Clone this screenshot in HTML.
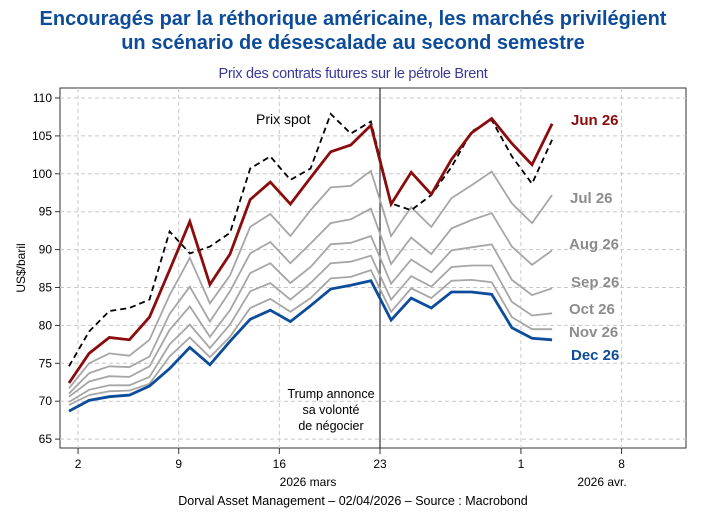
<!DOCTYPE html>
<html><head><meta charset="utf-8"><style>
body{margin:0;background:#fff;width:706px;height:522px;overflow:hidden;font-family:"Liberation Sans",sans-serif}
</style></head><body>
<svg id="chart" width="706" height="522" xmlns="http://www.w3.org/2000/svg" font-family="Liberation Sans, sans-serif">
<text x="353" y="25" text-anchor="middle" font-size="20" font-weight="bold" fill="#0d4c9a">Encouragés par la réthorique américaine, les marchés privilégient</text>
<text x="353" y="49" text-anchor="middle" font-size="20" font-weight="bold" fill="#0d4c9a">un scénario de désescalade au second semestre</text>
<text x="353" y="78" text-anchor="middle" font-size="14.5" fill="#3a3a9a" letter-spacing="-0.3">Prix des contrats futures sur le pétrole Brent</text>
<rect x="60" y="88" width="626" height="360" fill="none" stroke="#333" stroke-width="1"/>
<g id="grid"></g><g id="axes"></g><g id="series"></g>
<text transform="translate(25,268) rotate(-90)" text-anchor="middle" font-size="12" fill="#000">US$/baril</text>
<text x="308" y="486" text-anchor="middle" font-size="12">2026 mars</text>
<text x="602" y="486" text-anchor="middle" font-size="12">2026 avr.</text>
<text x="256" y="124" font-size="14">Prix spot</text>
<g font-size="12.5" text-anchor="middle" fill="#000">
<text x="331" y="398">Trump annonce</text><text x="331" y="414">sa volonté</text><text x="331" y="430">de négocier</text></g>
<text x="353" y="505" text-anchor="middle" font-size="12.5">Dorval Asset Management – 02/04/2026  –   Source : Macrobond</text>
</svg>
<script>
const categories=["02-03","03-03","04-03","05-03","06-03","09-03","10-03","11-03","12-03","13-03","16-03","17-03","18-03","19-03","20-03","23-03","24-03","25-03","26-03","27-03","30-03","31-03","01-04","02-04","03-04"];
const spot=[74.6,79.2,81.9,82.3,83.4,92.4,89.5,90.4,92.2,100.7,102.3,99.2,100.7,107.9,105.3,106.9,96.1,95.2,97.2,100.9,105.6,107.1,102.3,98.7,104.5];
const jun26=[72.4,76.3,78.4,78.1,81.1,87.3,93.7,85.4,89.4,96.6,98.9,96.0,99.5,102.9,103.8,106.4,96.0,100.2,97.3,101.9,105.4,107.3,104.0,101.2,106.6];
const jul26=[71.7,75.0,76.3,76.0,78.1,84.0,88.9,82.9,86.6,93.0,94.7,91.8,95.2,98.2,98.4,100.4,91.8,95.6,93.0,96.8,98.5,100.3,96.1,93.5,97.2];
const aug26=[71.0,73.7,74.6,74.5,75.9,81.5,85.1,80.5,84.5,89.5,91.0,88.2,90.8,93.5,94.0,95.4,88.1,91.6,89.4,92.8,93.9,94.8,90.4,88.0,89.9];
const sep26=[70.6,72.6,73.3,73.2,74.6,79.4,82.5,78.5,82.0,86.9,88.2,85.6,87.7,90.7,90.9,91.8,85.5,88.7,87.0,89.9,90.3,90.7,86.0,84.0,84.9];
const oct26=[69.9,71.5,72.1,72.1,73.2,77.5,80.1,77.0,80.1,84.5,85.6,83.4,85.6,88.2,88.4,89.2,83.4,86.5,85.1,87.7,87.9,87.9,83.1,81.3,81.6];
const nov26=[69.5,70.8,71.3,71.4,72.3,75.9,78.4,75.8,78.5,82.3,83.5,81.8,83.6,86.2,86.4,87.3,81.8,84.9,83.6,85.9,86.0,85.7,81.1,79.5,79.5];
const dec26=[68.7,70.1,70.6,70.8,72.0,74.3,77.1,74.8,77.9,80.8,82.0,80.5,82.6,84.8,85.3,85.9,80.7,83.6,82.3,84.4,84.4,84.1,79.7,78.3,78.1];
const yTicks=[65,70,75,80,85,90,95,100,105,110];
const xTickLabels=["2","9","16","23","1","8"];
const xTickIdx=[0,5,10,15,22,27];
const seriesNames=["Jun 26","Jul 26","Aug 26","Sep 26","Oct 26","Nov 26","Dec 26"];

const NS="http://www.w3.org/2000/svg";
const X=i=>69+i*20.13;
const Y=v=>98+(110-v)*7.58;
function mk(tag,attrs,parent){const e=document.createElementNS(NS,tag);for(const k in attrs)e.setAttribute(k,attrs[k]);parent.appendChild(e);return e;}
const grid=document.getElementById('grid'),axes=document.getElementById('axes'),ser=document.getElementById('series');
yTicks.forEach(v=>{
  const l=mk('line',{x1:60,x2:686,y1:Y(v),y2:Y(v),stroke:'#c8c8c8','stroke-dasharray':'4,3'},grid);
  
  
  const t=mk('line',{x1:55,x2:60,y1:Y(v),y2:Y(v),stroke:'#333'},axes);
  
  
  const tx=mk('text',{x:52,y:Y(v)+4,'text-anchor':'end','font-size':12},axes);
  
  
  tx.textContent=v;
});
xTickIdx.forEach((ix,k)=>{
  const x=X(ix+0.45);
  const g=mk('line',{x1:x,x2:x,y1:88,y2:448,stroke:'#c8c8c8','stroke-dasharray':'4,3'},grid);
  
  
  const t=mk('line',{x1:x,x2:x,y1:448,y2:454,stroke:'#333'},axes);
  
  
  const tx=mk('text',{x:x,y:468,'text-anchor':'middle','font-size':12},axes);
  
  
  tx.textContent=xTickLabels[k];
});
const vx=X(15.45);
const vl=mk('line',{x1:vx,x2:vx,y1:88,y2:448,stroke:'#333','stroke-width':1.2},axes);


function path(arr){return arr.map((v,i)=>(i?'L':'M')+X(i).toFixed(1)+','+Y(v).toFixed(1)).join(' ');}
[[jul26,'line-jul26'],[aug26,'line-aug26'],[sep26,'line-sep26'],[oct26,'line-oct26'],[nov26,'line-nov26']].forEach(([a,n])=>{
  const p=mk('path',{d:path(a),fill:'none',stroke:'#a6a6a6','stroke-width':1.8},ser);
  
  
});
const pd=mk('path',{d:path(dec26),fill:'none',stroke:'#0d4c9a','stroke-width':2.8},ser);


const ps=mk('path',{d:path(spot),fill:'none',stroke:'#000','stroke-width':1.8,'stroke-dasharray':'6,4'},ser);


const pj=mk('path',{d:path(jun26),fill:'none',stroke:'#8b0c0c','stroke-width':2.8},ser);


const labY=[125,203,249,287,314,337,360];
const labC=['#8b0c0c','#8c8c8c','#8c8c8c','#8c8c8c','#8c8c8c','#8c8c8c','#0d4c9a'];
seriesNames.forEach((n,i)=>{
  const t=mk('text',{x:[571,570,569,571,569,569,571][i],y:labY[i],'font-size':15,'font-weight':'bold',fill:labC[i]},ser);
  
  
  t.textContent=n;
});
</script>
</body></html>
